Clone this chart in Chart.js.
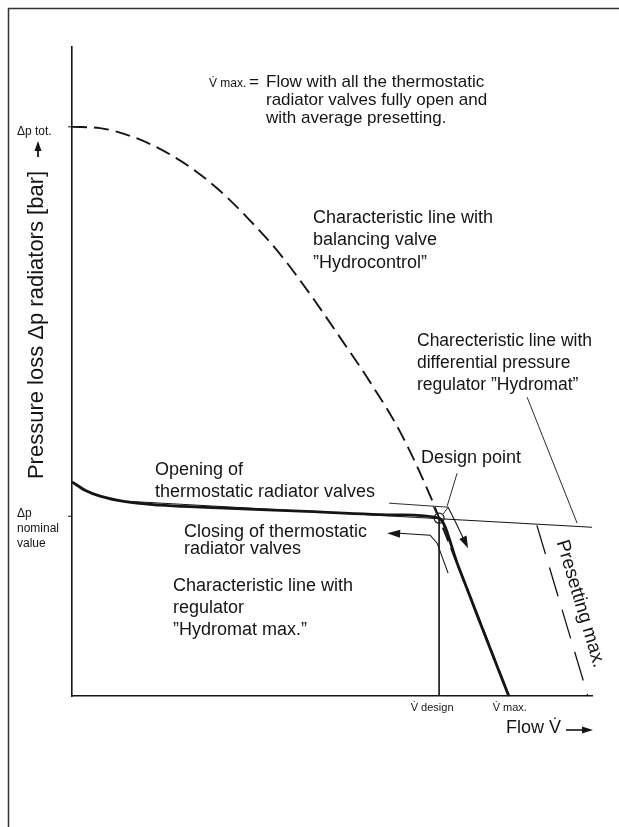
<!DOCTYPE html>
<html>
<head>
<meta charset="utf-8">
<script src="https://cdn.jsdelivr.net/npm/chart.js@4.4.0/dist/chart.umd.min.js"></script>
<style>
html, body { margin: 0; padding: 0; background: #fff; }
#wrap { width: 619px; height: 827px; }
</style>
</head>
<body>
<div id="wrap"><canvas id="myChart" width="619" height="827"></canvas></div>
<script>
// flow and pressure loss in relative units (0..100)
var flowTicks = [70.6, 84];
var flowTickLabels = ['V\u0307 design', 'V\u0307 max.'];
var pressureTicks = [87.7, 27.7];
var pressureTickLabels = [['\u0394p tot.'], ['\u0394p', 'nominal', 'value']];

var hydrocontrolFlow = [0, 5.4, 11.2, 16.9, 22.7, 28.5, 34.2, 40.0, 45.8, 51.5, 57.3, 63.1, 68.8, 70.6, 74.6, 78.5, 84.0];
var hydrocontrolPressure = [87.7, 87.5, 86.3, 84.3, 81.5, 77.8, 73.3, 68.1, 61.9, 55.3, 48.4, 40.7, 31.0, 27.4, 19.3, 11.4, 0];

var hydromatMaxFlow = [0, 2.5, 5.4, 10.6, 16.9, 24.6, 43.8, 63.1, 70.6, 74.2, 77.9, 81.3, 84.0];
var hydromatMaxPressure = [33.0, 31.7, 30.8, 29.9, 29.4, 29.1, 28.5, 27.9, 27.4, 20.2, 12.5, 5.5, 0];

var hydromatFlow = [10.6, 100];
var hydromatPressure = [30.0, 26.0];

var presettingFlow = [89.4, 99.2];
var presettingPressure = [26.3, 0];

var designFlow = [70.6, 70.6];
var designPressure = [27.4, 0];

var FONT = "'Liberation Sans', Arial, sans-serif";
var INK = '#151515';

function pts(xs, ys) {
    var out = [];
    for (var i = 0; i < xs.length; i++) out.push({x: xs[i], y: ys[i]});
    return out;
}

function arrowHead(c, x1, y1, x2, y2, len, half) {
    var a = Math.atan2(y2 - y1, x2 - x1);
    c.beginPath();
    c.moveTo(x2, y2);
    c.lineTo(x2 - len * Math.cos(a) + half * Math.sin(a), y2 - len * Math.sin(a) - half * Math.cos(a));
    c.lineTo(x2 - len * Math.cos(a) - half * Math.sin(a), y2 - len * Math.sin(a) + half * Math.cos(a));
    c.closePath();
    c.fill();
}

function poly(c, p, ox, oy) {
    c.beginPath();
    c.moveTo(ox + p[0][0], oy + p[0][1]);
    for (var i = 1; i < p.length; i++) c.lineTo(ox + p[i][0], oy + p[i][1]);
    c.stroke();
}

function lines(c, txt, x, y, step) {
    for (var i = 0; i < txt.length; i++) c.fillText(txt[i], x, y + i * step);
}

var notes = {
    id: 'notes',
    afterDraw: function(chart) {
        var c = chart.ctx, xs = chart.scales.x, ys = chart.scales.y;
        var x0 = xs.getPixelForValue(0), y0 = ys.getPixelForValue(0);
        c.save();
        c.fillStyle = INK;
        c.strokeStyle = INK;

        // page frame (scanned edge)
        c.lineWidth = 1.5;
        c.strokeStyle = '#333';
        c.beginPath();
        c.moveTo(8.5, 827); c.lineTo(8.5, 8.5); c.lineTo(619, 8.5);
        c.stroke();
        c.strokeStyle = INK;

        // y ticks
        c.textBaseline = 'middle';
        c.textAlign = 'left';
        c.font = '12px ' + FONT;
        for (var i = 0; i < pressureTicks.length; i++) {
            var py = ys.getPixelForValue(pressureTicks[i]);
            c.lineWidth = 1;
            c.beginPath(); c.moveTo(x0 - 4, py); c.lineTo(x0, py); c.stroke();
            var lab = pressureTickLabels[i];
            var start = lab.length == 1 ? py + 5 : py - 3;
            lines(c, lab, 17, start, 15);
        }
        // x ticks
        c.font = '11px ' + FONT;
        c.textAlign = 'center';
        for (var j = 0; j < flowTicks.length; j++) {
            var px = xs.getPixelForValue(flowTicks[j]);
            c.fillText(flowTickLabels[j], px + (j == 0 ? -7 : 1), y0 + 12);
        }

        // axis titles
        c.save();
        c.translate(37, 325);
        c.rotate(-Math.PI / 2);
        c.font = '22px ' + FONT;
        c.textAlign = 'center';
        c.fillText('Pressure loss \u0394p radiators [bar]', 0, 0);
        c.restore();
        c.lineWidth = 1.8;
        c.beginPath(); c.moveTo(38, 157); c.lineTo(38, 148); c.stroke();
        arrowHead(c, 38, 157, 38, 141, 10, 3.5);

        c.font = '18px ' + FONT;
        c.textAlign = 'left';
        c.fillText('Flow V\u0307', 506, y0 + 32);
        c.lineWidth = 1.6;
        c.beginPath(); c.moveTo(566, y0 + 34); c.lineTo(584, y0 + 34); c.stroke();
        arrowHead(c, 566, y0 + 34, 593, y0 + 34, 11, 3.5);

        // note on top
        c.font = '12px ' + FONT;
        c.fillText('V\u0307 max.', 209, 84);
        c.font = '17px ' + FONT;
        c.fillText('=', 249, 82);
        lines(c, ['Flow with all the thermostatic', 'radiator valves fully open and', 'with average presetting.'], 266, 82, 18);

        // labels
        c.font = '18px ' + FONT;
        lines(c, ['Characteristic line with', 'balancing valve', '\u201DHydrocontrol\u201D'], 313, 218, 22.5);
        c.fillText('Design point', 421, 458);
        lines(c, ['Opening of', 'thermostatic radiator valves'], 155, 470, 22);
        lines(c, ['Closing of thermostatic', 'radiator valves'], 184, 532, 17);
        lines(c, ['Characteristic line with', 'regulator', '\u201DHydromat max.\u201D'], 173, 586, 22);
        c.font = '17.5px ' + FONT;
        lines(c, ['Charecteristic line with', 'differential pressure', 'regulator \u201DHydromat\u201D'], 417, 341, 22);

        // presetting max. along its dashed line
        var pa = {x: xs.getPixelForValue(presettingFlow[0]), y: ys.getPixelForValue(presettingPressure[0])};
        var pb = {x: xs.getPixelForValue(presettingFlow[1]), y: ys.getPixelForValue(presettingPressure[1])};
        c.save();
        c.translate(pa.x + (pb.x - pa.x) * 0.46 + 20, pa.y + (pb.y - pa.y) * 0.46);
        c.rotate(Math.atan2(pb.y - pa.y, pb.x - pa.x));
        c.font = '19px ' + FONT;
        c.textAlign = 'center';
        c.fillText('Presetting max.', 0, 0);
        c.restore();

        // leaders and arrows around the design point
        var dx = xs.getPixelForValue(designFlow[0]), dy = ys.getPixelForValue(designPressure[0]);
        c.lineWidth = 0.9;
        poly(c, [[18, -45], [8, -12]], dx, dy);
        poly(c, [[-50, -15], [-6, -12], [-3, -5]], dx, dy);
        poly(c, [[-6, -12], [9, -11], [4, -4]], dx, dy);
        poly(c, [[88, -121], [138, 5]], dx, dy);
        c.lineWidth = 1.1;
        poly(c, [[9, -11], [17, 5], [26, 24]], dx, dy);
        arrowHead(c, dx + 17, dy + 5, dx + 29, dy + 30, 12, 4);
        poly(c, [[9, 55], [-2, 25], [-9, 17], [-40, 15]], dx, dy);
        arrowHead(c, dx - 9, dy + 17, dx - 52, dy + 15, 13, 4);
        c.restore();
    }
};

var ctx = document.getElementById('myChart').getContext('2d');
var myChart = new Chart(ctx, {
    type: 'scatter',
    data: {
        datasets: [{
            label: 'Hydromat max.',
            data: pts(hydromatMaxFlow, hydromatMaxPressure),
            showLine: true,
            borderColor: INK,
            borderWidth: 2.8,
            cubicInterpolationMode: 'monotone',
            pointRadius: 0
        }, {
            label: 'Hydrocontrol',
            data: pts(hydrocontrolFlow, hydrocontrolPressure),
            showLine: true,
            borderColor: INK,
            borderWidth: 1.9,
            borderDash: [15, 7],
            cubicInterpolationMode: 'monotone',
            pointRadius: 0
        }, {
            label: 'Hydromat',
            data: pts(hydromatFlow, hydromatPressure),
            showLine: true,
            borderColor: INK,
            borderWidth: 1.1,
            pointRadius: 0
        }, {
            label: 'Presetting max.',
            data: pts(presettingFlow, presettingPressure),
            showLine: true,
            borderColor: INK,
            borderWidth: 1.3,
            borderDash: [30, 14],
            pointRadius: 0
        }, {
            label: 'V design',
            data: pts(designFlow, designPressure),
            showLine: true,
            borderColor: INK,
            borderWidth: 0.9,
            pointRadius: [5, 0],
            pointBackgroundColor: 'rgba(0,0,0,0)',
            pointBorderColor: INK,
            pointBorderWidth: 1.2
        }]
    },
    options: {
        responsive: false,
        animation: false,
        devicePixelRatio: 1,
        clip: false,
        layout: { padding: { left: 72, right: 27, top: 47, bottom: 131 } },
        plugins: { legend: { display: false }, tooltip: { enabled: false } },
        scales: {
            x: {
                type: 'linear', min: 0, max: 100,
                grid: { display: false, drawTicks: false },
                ticks: { display: false },
                border: { display: true, color: INK, width: 1.6 }
            },
            y: {
                type: 'linear', min: 0, max: 100,
                grid: { display: false, drawTicks: false },
                ticks: { display: false },
                border: { display: true, color: INK, width: 1.6 }
            }
        }
    },
    plugins: [notes]
});
</script>
</body>
</html>
